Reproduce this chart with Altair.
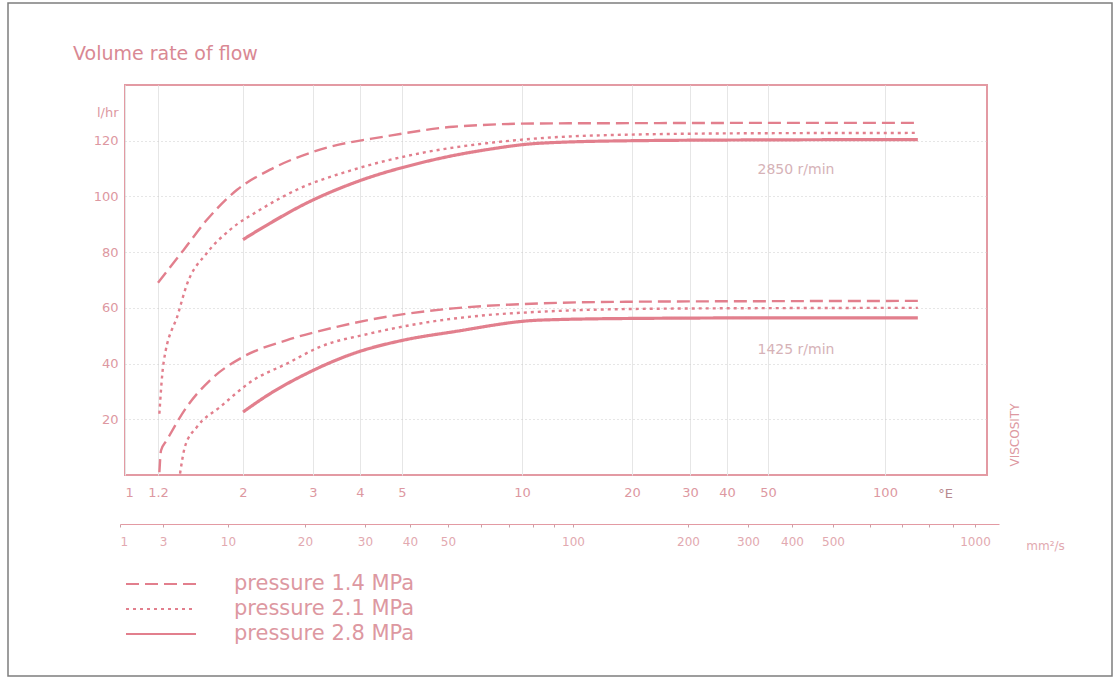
import altair as alt
import pandas as pd

# ---- viscosity scales -------------------------------------------------------
# Engler degrees: tick values and the piecewise positions of the printed scale
engler_ticks = [1, 1.2, 2, 3, 4, 5, 10, 20, 30, 40, 50, 100]
engler_domain = [1, 1.2, 2, 3, 4, 5, 10, 20, 30, 40, 50, 100, 200]
engler_range = [0, 33, 118, 188, 235, 277, 397, 507, 565, 602, 643, 760, 862]

# kinematic viscosity in mm²/s, drawn as a second scale under the first one
mm2s_labels = [1, 3, 10, 20, 30, 40, 50, 100, 200, 300, 400, 500, 1000]
mm2s_minor = [60, 70, 80, 90, 600, 700, 800, 900]
mm2s_domain = [1, 3, 10, 20, 30, 40, 50, 100, 200, 300, 400, 500, 1000, 1100]
mm2s_range = [-5, 38, 103, 180, 240, 285, 323, 448, 563, 623, 667, 708, 850, 874]

flow_ticks = [20, 40, 60, 80, 100, 120]

# ---- flow curves (°E, l/hr) ------------------------------------------------
pressures = ["pressure 1.4 MPa", "pressure 2.1 MPa", "pressure 2.8 MPa"]

visc_14_2850 = [1.20, 1.40, 1.61, 1.93, 2.34, 3.13, 4.61, 6.72, 11.2, 20, 50, 125]
flow_14_2850 = [69.0, 80.8, 91.6, 102.4, 109.6, 116.8, 121.6, 125.0, 126.2, 126.3, 126.4, 126.4]

visc_21_2850 = [1.21, 1.24, 1.355, 1.426, 1.608, 1.849, 2.207, 2.73, 3.84, 5.55, 8.16, 11.2, 20, 50, 125]
flow_21_2850 = [22.0, 40.0, 58.0, 68.2, 79.6, 88.0, 95.2, 102.4, 109.6, 115.5, 119.1, 120.9, 122.2, 122.7, 122.8]

visc_28_2850 = [2.0, 2.34, 2.89, 3.84, 5.55, 8.16, 11.2, 20, 50, 125]
flow_28_2850 = [84.5, 90.4, 97.6, 104.8, 112.0, 116.8, 119.1, 120.0, 120.3, 120.4]

visc_14_1425 = [1.21, 1.222, 1.264, 1.426, 1.64, 2.0, 2.58, 3.47, 4.61, 6.72, 11.2, 20, 50, 125]
flow_14_1425 = [1.0, 8.8, 12.4, 24.4, 34.0, 42.4, 48.4, 53.2, 56.8, 59.8, 61.6, 62.2, 62.4, 62.5]

visc_21_1425 = [1.37, 1.41, 1.515, 1.742, 2.12, 2.58, 3.13, 4.22, 5.55, 8.16, 11.2, 20, 50, 125]
flow_21_1425 = [0.5, 10.0, 17.2, 24.4, 34.0, 40.0, 46.0, 50.8, 54.4, 57.4, 58.6, 59.6, 59.9, 60.0]

visc_28_1425 = [2.0, 2.34, 2.89, 3.84, 5.04, 6.72, 11.2, 20, 50, 125]
flow_28_1425 = [22.6, 29.2, 36.4, 43.6, 48.4, 51.4, 55.6, 56.2, 56.4, 56.4]

speed_labels = ["2850 r/min", "1425 r/min"]
speed_label_visc = [59, 59]
speed_label_flow = [109.6, 44.8]

series = [
    (pressures[0], "2850", visc_14_2850, flow_14_2850),
    (pressures[1], "2850", visc_21_2850, flow_21_2850),
    (pressures[2], "2850", visc_28_2850, flow_28_2850),
    (pressures[0], "1425", visc_14_1425, flow_14_1425),
    (pressures[1], "1425", visc_21_1425, flow_21_1425),
    (pressures[2], "1425", visc_28_1425, flow_28_1425),
]
rows = []
for pressure, speed, xs, ys in series:
    for i, (xv, yv) in enumerate(zip(xs, ys)):
        rows.append({"pressure": pressure, "speed": speed, "visc": xv, "flow": yv, "order": i})
curves_df = pd.DataFrame(rows)

labels_df = pd.DataFrame({"label": speed_labels, "visc": speed_label_visc, "flow": speed_label_flow})

# ---- styling ----------------------------------------------------------------
FONT = "DejaVu Sans"
line_pink = "#e27f8d"
frame_pink = "#e39aa3"
text_pink = "#dd98a1"
title_pink = "#d98893"
note_col = "#d6b2b7"

x_engler = alt.X(
    "visc:Q",
    scale=alt.Scale(type="log", domain=engler_domain, range=engler_range, nice=False),
    axis=alt.Axis(
        values=engler_ticks, format="~g", domain=False, ticks=False, tickSize=0,
        labelPadding=11, labelFontSize=13, grid=True, gridColor="#e6e6e6", gridWidth=1,
        title="°E", titleX=820, titleY=18, titleAngle=0, titleAlign="center",
        titleBaseline="middle", titleFontSize=13, titleColor="#b88a90",
    ),
)
y_flow = alt.Y(
    "flow:Q",
    scale=alt.Scale(domain=[0, 140], nice=False, zero=True),
    axis=alt.Axis(
        values=flow_ticks, domain=False, ticks=False, tickSize=0, labelPadding=7,
        labelFontSize=13, grid=True, gridColor="#cccccc", gridDash=[1, 3], gridWidth=1,
        title="l/hr", titleAngle=0, titleAlign="right", titleBaseline="middle",
        titleX=-7, titleY=27, titleFontSize=13,
    ),
)

curves = (
    alt.Chart(curves_df)
    .transform_calculate(lw="datum.pressure == 'pressure 2.8 MPa' ? 3.2 : 2.4")
    .mark_line(color=line_pink, interpolate="monotone")
    .encode(
        x=x_engler,
        y=y_flow,
        strokeDash=alt.StrokeDash(
            "pressure:N",
            scale=alt.Scale(domain=pressures, range=[[13, 6], [3, 4], [1, 0]]),
            legend=alt.Legend(
                title=None, orient="none", legendX=25, legendY=488, padding=0,
                symbolType="M-3.5,0H3.5", symbolSize=400, symbolStrokeWidth=2,
                symbolStrokeColor=line_pink, symbolFillColor="transparent",
                labelFont=FONT, labelFontSize=21, labelColor=text_pink,
                labelOffset=62, rowPadding=4, labelLimit=400,
            ),
        ),
        strokeWidth=alt.StrokeWidth("lw:Q", scale=None),
        detail="speed:N",
        order="order:Q",
    )
)

speed_text = alt.Chart(labels_df).mark_text(
    font=FONT, fontSize=14, color=note_col, align="center", baseline="middle"
).encode(x=alt.X("visc:Q"), y=alt.Y("flow:Q"), text="label:N")

inner = alt.layer(curves, speed_text)

mm2s_label_expr = (
    "indexof([" + ",".join(str(v) for v in mm2s_labels) + "], datum.value) >= 0 ? datum.label : ''"
)
mm2s_axis_layer = (
    alt.Chart(pd.DataFrame({"mm2s": mm2s_labels}))
    .mark_point(opacity=0)
    .encode(
        x=alt.X(
            "mm2s:Q",
            scale=alt.Scale(type="log", domain=mm2s_domain, range=mm2s_range, nice=False),
            axis=alt.Axis(
                orient="bottom", offset=49, values=mm2s_labels + mm2s_minor, format="d",
                labelExpr=mm2s_label_expr, grid=False, domain=True, domainColor=frame_pink,
                domainWidth=1, ticks=True, tickSize=3, tickColor="#c9a0a6", labelPadding=9,
                labelFontSize=12, labelColor="#e2a9b0",
                title="mm²/s", titleX=920, titleY=21, titleAngle=0, titleAlign="center",
                titleBaseline="middle", titleFontSize=12, titleColor="#e2a9b0",
            ),
        )
    )
)

one_row = pd.DataFrame({"k": [0]})

# thin outer frame of the figure
border = alt.Chart(one_row).mark_rect(
    fill="transparent", stroke="#7d7d7d", strokeWidth=1.5
).encode(x=alt.value(-117), x2=alt.value(987), y=alt.value(-82), y2=alt.value(591))

# figure heading above the plot frame
heading = alt.Chart(one_row).mark_text(
    text="Volume rate of flow", font=FONT, fontSize=19, color=title_pink,
    align="left", baseline="middle",
).encode(x=alt.value(-52), y=alt.value(-31))

viscosity_word = alt.Chart(one_row).mark_text(
    text="VISCOSITY", font=FONT, fontSize=12, color=text_pink, angle=270,
    align="center", baseline="middle",
).encode(x=alt.value(890), y=alt.value(350))

chart = (
    alt.layer(border, heading, inner, mm2s_axis_layer, viscosity_word)
    .resolve_scale(x="independent")
    .properties(
        width=862,
        height=390,
        padding={"left": 125, "top": 85, "right": 130, "bottom": 204},
        autosize=alt.AutoSizeParams(type="none"),
        background="white",
    )
    .configure_view(stroke=frame_pink, strokeWidth=2)
    .configure_axis(labelFont=FONT, titleFont=FONT, labelColor=text_pink,
                    titleColor=text_pink, titleFontWeight="normal")
)

chart.save("out.html", embed_options={"renderer": "svg", "actions": False})
